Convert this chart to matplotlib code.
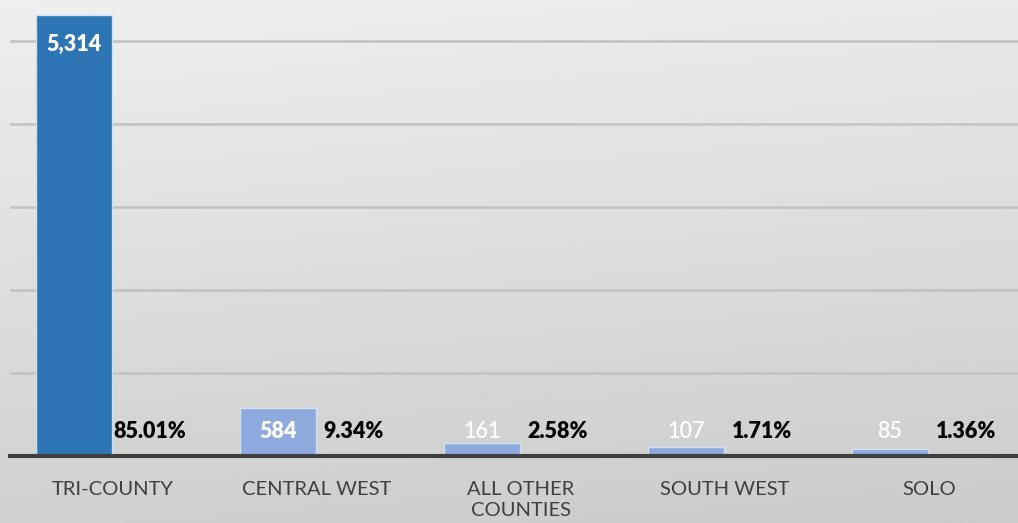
import numpy as np
import matplotlib
matplotlib.use("Agg")
import matplotlib.pyplot as plt

categories = ["TRI-COUNTY", "CENTRAL WEST", "ALL OTHER\nCOUNTIES", "SOUTH WEST", "SOLO"]
counts = [5314, 584, 161, 107, 85]
count_labels = ["5,314", "584", "161", "107", "85"]
percents = ["85.01%", "9.34%", "2.58%", "1.71%", "1.36%"]

plt.rcParams['font.family'] = ['Lato', 'DejaVu Sans']

fig = plt.figure(figsize=(10.18, 5.23), dpi=100)

# background gradient
bg = fig.add_axes([0, 0, 1, 1])
gy, gx = np.mgrid[0:1:200j, 0:1:200j]
shade = 0.935 - 0.12 * gy - 0.02 * gx
bg.imshow(shade, cmap="gray", vmin=0, vmax=1, aspect="auto", extent=[0, 1, 0, 1], origin="upper")
bg.axis("off")

W, H = 1018, 523
ax = fig.add_axes([10 / W, 1 - 456 / H, 1008 / W, 456 / H])
ax.patch.set_alpha(0)

x = np.arange(len(categories))
bw = 0.3725
off = 0.191
colors = ["#2E75B6"] + ["#8FAADC"] * 4
ax.bar(x - off, counts, width=bw, color=colors, edgecolor="#cfe0f2", linewidth=1, zorder=3)

ax.set_xlim(-0.505, -0.505 + 1008 / 204)
ax.set_ylim(0, 5494)
ax.set_yticks([1000, 2000, 3000, 4000, 5000])
ax.yaxis.grid(True, color="#c2c2c2", linewidth=1.8, zorder=0)
ax.tick_params(axis="y", left=False, labelleft=False)
ax.set_xticks(x)
ax.set_xticklabels(categories, fontsize=14.5, color="#404040", linespacing=1.3)
ax.tick_params(axis="x", length=0, pad=18)
for s in ["top", "right", "left"]:
    ax.spines[s].set_visible(False)
ax.spines["bottom"].set_color("#404040")
ax.spines["bottom"].set_linewidth(3)
ax.spines["bottom"].set_zorder(4)

for i, (v, lab, pct) in enumerate(zip(counts, count_labels, percents)):
    if i == 0:
        ax.text(x[i] - off, v - 230, lab, ha="center", va="top", color="white",
                fontsize=15.5, fontweight="heavy", zorder=5)
    elif i == 1:
        ax.text(x[i] - off, 300, lab, ha="center", va="center", color="white",
                fontsize=15.5, fontweight="heavy", zorder=5)
    else:
        ax.text(x[i] - off, 300, lab, ha="center", va="center", color="white",
                fontsize=15.5, fontweight="semibold", zorder=5)
    ax.text(x[i] + off - 0.01, 300, pct, ha="center", va="center", color="black",
            fontsize=15.5, fontweight="heavy", zorder=5)

fig.savefig("out.png", dpi=100)
